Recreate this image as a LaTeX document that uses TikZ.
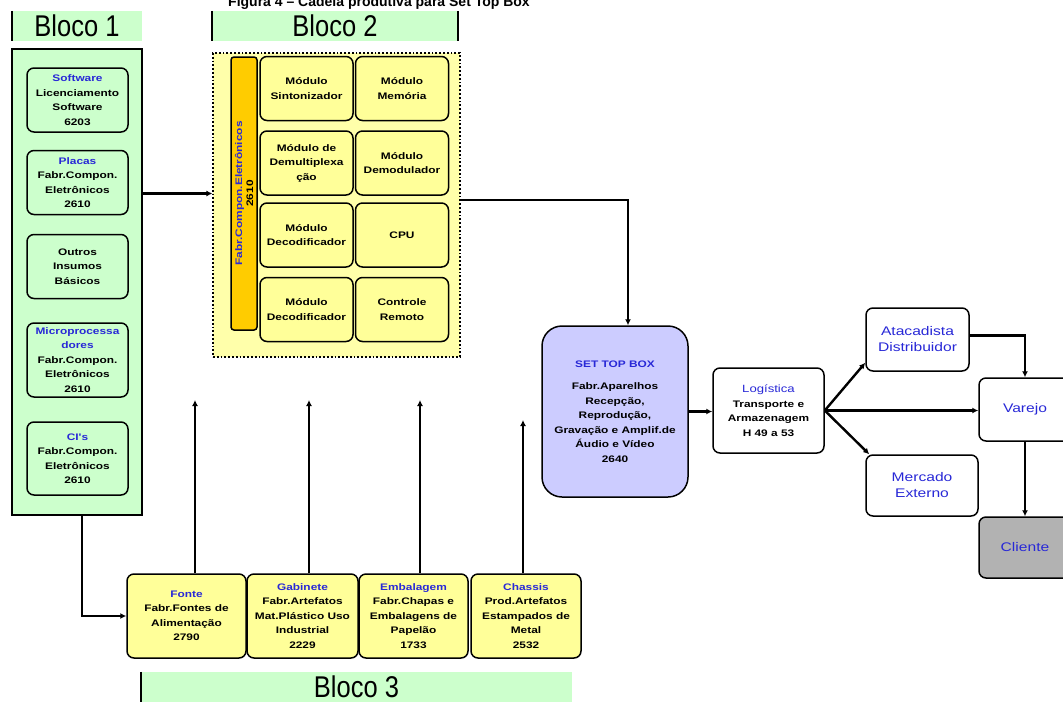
\documentclass[tikz,border=0pt]{standalone}
\usepackage{fontspec}
\setmainfont{Liberation Sans}
\newfontfamily\caixafont[FakeStretch=1.25]{Liberation Sans Bold}
\newfontfamily\destinofont[FakeStretch=1.25]{Liberation Sans}
\newfontfamily\blocofont[FakeStretch=0.85]{Liberation Sans}
\usepackage{tikz}
\usetikzlibrary{arrows.meta}
\usepackage{xcolor}

\definecolor{verdeclaro}{RGB}{204,255,204}
\definecolor{amarelo}{RGB}{255,255,153}
\definecolor{amareloclaro}{RGB}{255,255,170}
\definecolor{laranja}{RGB}{255,204,0}
\definecolor{lilas}{RGB}{204,204,255}
\definecolor{cinza}{RGB}{178,178,178}
\definecolor{azul}{RGB}{40,40,215}
\newcommand{\azul}[1]{\textcolor{azul}{#1}}

\begin{document}
\begin{tikzpicture}[
  x=1pt, y=-1pt,
  caixa/.style={draw, line width=1.5pt, rounded corners=7pt, align=center,
    inner sep=1pt, font=\caixafont\fontsize{9.5}{14.5}\selectfont},
  verde/.style={caixa, fill=verdeclaro, minimum width=101pt, minimum height=64pt},
  modulo/.style={caixa, fill=amarelo, minimum width=93pt, minimum height=64pt},
  insumo/.style={caixa, fill=amarelo, minimum width=110pt, minimum height=84pt},
  destino/.style={caixa, fill=white, text=azul,
    font=\destinofont\fontsize{12.5}{16}\selectfont},
  bloco/.style={draw, line width=1.8pt, inner sep=0pt},
  cabec/.style={fill=verdeclaro, inner sep=0pt,
    font=\blocofont\fontsize{30}{30}\selectfont},
  barrapreta/.style={line width=1.5pt},
  seta/.style={-{Latex[length=6pt,width=6pt]}, line width=2.4pt}
]
  \clip (0,0) rectangle (1063,702);

  % titulo (cortado no alto)
  \node[font=\bfseries\fontsize{14}{14}\selectfont, anchor=base west, inner sep=0pt]
    (titulo) at (228,6) {Figura 4 – Cadeia produtiva para Set Top Box};

  % cabecalhos dos blocos
  \node[cabec, minimum width=130pt, minimum height=30pt] (cab1) at (77,26) {Bloco 1};
  \draw[barrapreta] (cab1.north west) -- (cab1.south west);
  \node[cabec, minimum width=246pt, minimum height=30pt] (cab2) at (335,26) {Bloco 2};
  \draw[barrapreta] (cab2.north west) -- (cab2.south west);
  \draw[barrapreta] (cab2.north east) -- (cab2.south east);
  \node[cabec, minimum width=431pt, minimum height=30pt] (cab3) at (356.5,687) {Bloco 3};
  \draw[barrapreta] (cab3.north west) -- (cab3.south west);

  % Bloco 1: insumos
  \node[bloco, fill=verdeclaro, minimum width=130pt, minimum height=466pt] (bloco1) at (77,282) {};
  \node[verde] (software) at (77.5,100) {\azul{Software}\\Licenciamento\\Software\\6203};
  \node[verde] (placas) at (77.5,182.5) {\azul{Placas}\\Fabr.Compon.\\Eletrônicos\\2610};
  \node[verde] (outros) at (77.5,266.5) {Outros\\Insumos\\Básicos};
  \node[verde, minimum height=74pt] (micro) at (77.5,360)
    {\azul{Microprocessa}\\\azul{dores}\\Fabr.Compon.\\Eletrônicos\\2610};
  \node[verde, minimum height=73pt] (cis) at (77.5,458.5) {\azul{CI's}\\Fabr.Compon.\\Eletrônicos\\2610};

  % Bloco 2: modulos
  \node[bloco, fill=amareloclaro, dotted, line width=1.2pt, minimum width=247pt, minimum height=304pt] (bloco2) at (336.5,205) {};
  \node[caixa, fill=laranja, rounded corners=3pt, rotate=90, minimum width=273pt,
    minimum height=26pt, font=\caixafont\fontsize{9.5}{11}\selectfont]
    (barra) at (244,193.5) {\azul{Fabr.Compon.Eletrônicos}\\2610};
  \node[modulo] (sintonizador) at (306.5,88.5) {Módulo\\Sintonizador};
  \node[modulo] (memoria) at (402,88.5) {Módulo\\Memória};
  \node[modulo] (demux) at (306.5,163) {Módulo de\\Demultiplexa\\ção};
  \node[modulo] (demodulador) at (402,163) {Módulo\\Demodulador};
  \node[modulo] (decod1) at (306.5,235) {Módulo\\Decodificador};
  \node[modulo] (cpu) at (402,235) {CPU};
  \node[modulo] (decod2) at (306.5,309.5) {Módulo\\Decodificador};
  \node[modulo] (controle) at (402,309.5) {Controle\\Remoto};

  % produto e distribuicao
  \node[caixa, fill=lilas, rounded corners=20pt, minimum width=146pt, minimum height=171pt]
    (stb) at (615,411.5)
    {\azul{SET TOP BOX}\\[8pt]Fabr.Aparelhos\\Recepção,\\Reprodução,\\Gravação e Amplif.de\\Áudio e Vídeo\\2640};
  \node[caixa, fill=white, minimum width=111pt, minimum height=85pt] (logistica) at (768.5,410.5)
    {\azul{\destinofont\fontsize{10.5}{14}\selectfont Logística}\\Transporte e\\Armazenagem\\H 49 a 53};
  \node[destino, minimum width=103pt, minimum height=63pt] (atacadista) at (917.5,339.5) {Atacadista\\Distribuidor};
  \node[destino, minimum width=112pt, minimum height=61pt] (mercado) at (922,485.5) {Mercado\\Externo};
  \node[destino, minimum width=92pt, minimum height=63pt] (varejo) at (1025,409.5) {Varejo};
  \node[destino, fill=cinza, minimum width=92pt, minimum height=61pt] (cliente) at (1025,547.5) {Cliente};

  % Bloco 3: insumos de montagem
  \node[insumo, minimum width=119pt] (fonte) at (186.5,616)
    {\azul{Fonte}\\Fabr.Fontes de\\Alimentação\\2790};
  \node[insumo, minimum width=111pt] (gabinete) at (302.5,616)
    {\azul{Gabinete}\\Fabr.Artefatos\\Mat.Plástico Uso\\Industrial\\2229};
  \node[insumo, minimum width=109pt] (embalagem) at (413.5,616)
    {\azul{Embalagem}\\Fabr.Chapas e\\Embalagens de\\Papelão\\1733};
  \node[insumo] (chassis) at (526,616)
    {\azul{Chassis}\\Prod.Artefatos\\Estampados de\\Metal\\2532};

  % pontas das setas que sobem do Bloco 3
  \coordinate (alvo1) at (195,400);
  \coordinate (alvo2) at (309,400);
  \coordinate (alvo3) at (420,400);
  \coordinate (alvo4) at (523,420);

  % ligacoes
  \draw[seta] (bloco1.east |- barra.center) -- (bloco2.west |- barra.center);
  \draw[seta] ([yshift=5pt]bloco2.east) -| ([xshift=13pt]stb.north);
  \draw[seta] ([xshift=5pt]bloco1.south) |- (fonte.west);
  \draw[seta] (fonte.north -| alvo1) -- (alvo1);
  \draw[seta] (gabinete.north -| alvo2) -- (alvo2);
  \draw[seta] (embalagem.north -| alvo3) -- (alvo3);
  \draw[seta] (chassis.north -| alvo4) -- (alvo4);
  \draw[seta] (stb.east) -- (stb.east -| logistica.west);
  \draw[seta] (logistica.east) -- ([yshift=9pt]atacadista.south west);
  \draw[seta] (logistica.east) -- ([xshift=4pt]mercado.north west);
  \draw[seta] (logistica.east) -- (logistica.east -| varejo.west);
  \draw[seta] ([yshift=4pt]atacadista.east) -| (varejo.north);
  \draw[seta] (varejo.south) -- (cliente.north);
\end{tikzpicture}
\end{document}
